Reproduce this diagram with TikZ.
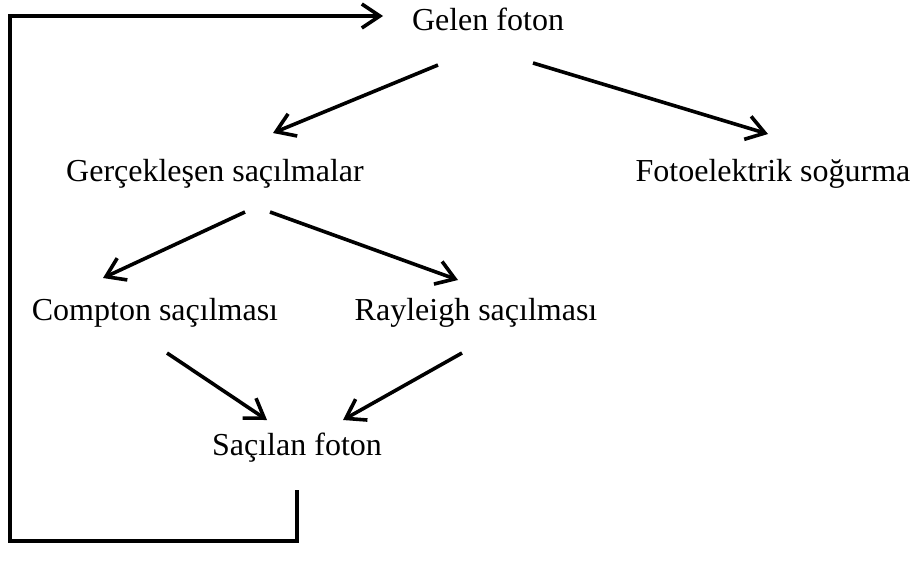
\documentclass[tikz,border=0pt]{standalone}
\usepackage{fontspec}
\setmainfont{Liberation Serif}
\usetikzlibrary{calc,arrows.meta}

\tikzset{
  lbl/.style={anchor=base,inner sep=0pt,font=\fontsize{16}{19}\selectfont},
  arr/.style={line width=1.8pt,-{Straight Barb[length=9pt,width=12pt,line width=1.8pt]}}
}

\begin{document}
\begin{tikzpicture}[x=0.5pt,y=-0.5pt]
\useasboundingbox (0,0) rectangle (914,573);
% nodes (baseline positions)
\node[lbl] (gelen)    at (488,31)  {Gelen foton};
\node[lbl] (gercek)   at (215,181) {Gerçekleşen saçılmalar};
\node[lbl] (foto)     at (773,181) {Fotoelektrik soğurma};
\node[lbl] (compton)  at (155,320) {Compton saçılması};
\node[lbl] (rayleigh) at (476,320) {Rayleigh saçılması};
\node[lbl] (sacilan)  at (297,455) {Saçılan foton};
% connectors
\draw[arr] ($(gelen.base)+(-50,34)$) -- ($(gercek.base)+(58,-48)$);
\draw[arr] ($(gelen.base)+(45,32)$) -- ($(foto.base)+(-5,-47)$);
\draw[arr] ($(gercek.base)+(30,31)$) -- ($(compton.base)+(-52,-42)$);
\draw[arr] ($(gercek.base)+(55,31)$) -- ($(rayleigh.base)+(-18,-40)$);
\draw[arr] ($(compton.base)+(12,33)$) -- ($(sacilan.base)+(-30,-35)$);
\draw[arr] ($(rayleigh.base)+(-14,33)$) -- ($(sacilan.base)+(46,-35)$);
% feedback loop
\draw[arr] ($(sacilan.base)+(0,35)$) -- ++(0,51) -| (10,16) -- ($(gelen.base)+(-105,-15)$);
\end{tikzpicture}
\end{document}
